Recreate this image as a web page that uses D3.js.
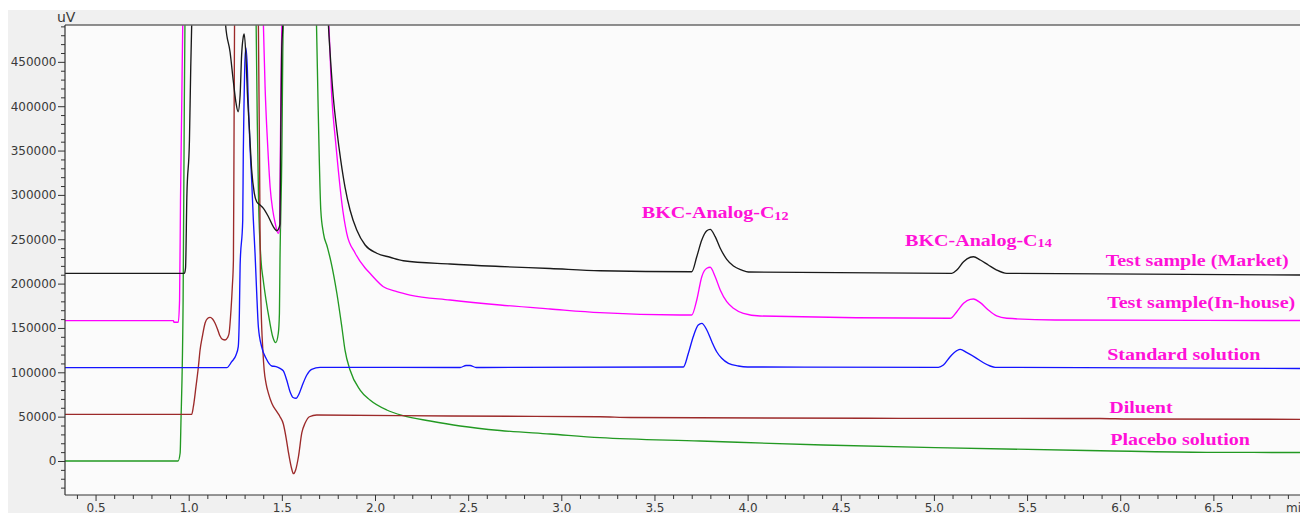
<!DOCTYPE html>
<html>
<head>
<meta charset="utf-8">
<script src="https://cdn.jsdelivr.net/npm/d3@7"></script>
<style>
  html, body { margin: 0; padding: 0; background: #ffffff; }
  svg { display: block; }
</style>
</head>
<body>
<div id="chart"></div>
<script>
// Chromatograms: [retention time (min), detector response (uV)].
// Off-scale main peaks are given a nominal height above the plotted range.
const placebo = [[0.336,0],[0.943,0],[0.954,9000],[0.959,49600],[0.964,91300],[0.970,181500],[0.975,350600],[0.980,497000],[1.05,650000],[1.30,650000],[1.355,560000],[1.362,491500],[1.368,384400],[1.375,294300],[1.388,226600],[1.400,204100],[1.415,181500],[1.433,159000],[1.451,140100],[1.467,133400],[1.481,144000],[1.487,166900],[1.490,226600],[1.500,347200],[1.505,460000],[1.509,519700],[1.55,650000],[1.65,650000],[1.681,530000],[1.686,491500],[1.694,407000],[1.701,339300],[1.709,283000],[1.723,257000],[1.744,241300],[1.764,224300],[1.795,189400],[1.822,151100],[1.839,125100],[1.866,102600],[1.920,80000],[1.973,68800],[2.063,57500],[2.151,51100],[2.296,45100],[2.457,39500],[2.671,34400],[2.940,30400],[3.208,26300],[3.745,22500],[4.405,18000],[5.007,15000],[5.893,11600],[6.466,9800],[6.965,9600]];

const diluent = [[0.336,52600],[1.016,52600],[1.025,61200],[1.039,83800],[1.052,106300],[1.061,125100],[1.073,140100],[1.088,155600],[1.101,160700],[1.115,162000],[1.128,160100],[1.141,155600],[1.158,146600],[1.168,140900],[1.182,137000],[1.195,136400],[1.209,139200],[1.217,144300],[1.227,170200],[1.234,196200],[1.240,226600],[1.243,350600],[1.246,491500],[1.26,650000],[1.36,650000],[1.374,491500],[1.380,350600],[1.384,226600],[1.389,170200],[1.398,125100],[1.405,102600],[1.415,87600],[1.428,76300],[1.446,65100],[1.473,55600],[1.490,49900],[1.508,41700],[1.523,25900],[1.535,10100],[1.553,-9000],[1.562,-14300],[1.574,-10100],[1.589,4800],[1.607,31600],[1.625,42800],[1.648,49900],[1.687,51900],[2.403,50700],[3.208,49900],[3.369,49000],[4.818,48100],[5.891,47900],[6.052,47300],[6.965,47000]];

const standard = [[0.336,105200],[1.204,105200],[1.231,112000],[1.254,119500],[1.266,128900],[1.272,166900],[1.276,221000],[1.290,271700],[1.293,347200],[1.297,403600],[1.302,452100],[1.307,465600],[1.315,440800],[1.320,403600],[1.329,354000],[1.338,316800],[1.347,271700],[1.356,234500],[1.365,189400],[1.374,151100],[1.392,128500],[1.415,115800],[1.446,107100],[1.469,106500],[1.490,104500],[1.508,101500],[1.526,91300],[1.544,78100],[1.560,71600],[1.576,70700],[1.592,75500],[1.607,83800],[1.634,97000],[1.660,103400],[1.705,105600],[2.457,105400],[2.489,107700],[2.510,107700],[2.543,105400],[3.655,106000],[3.682,121400],[3.708,140100],[3.735,153300],[3.754,155200],[3.781,147700],[3.808,134500],[3.834,123200],[3.861,115800],[3.897,110100],[3.950,107100],[4.000,106000],[5.024,105600],[5.051,108200],[5.087,117600],[5.123,124400],[5.141,125900],[5.177,122100],[5.221,116900],[5.266,110800],[5.302,107100],[5.329,105600],[6.965,104300]];

const inHouse = [[0.336,158200],[0.918,158200],[0.921,156400],[0.944,156400],[0.951,181500],[0.956,294300],[0.963,407000],[0.968,491500],[1.0,650000],[1.37,650000],[1.397,519700],[1.401,491500],[1.410,421600],[1.419,375400],[1.428,339300],[1.437,308900],[1.451,283000],[1.463,269400],[1.481,256700],[1.488,262700],[1.492,350600],[1.497,452100],[1.500,491500],[1.52,650000],[1.72,650000],[1.745,508500],[1.752,491500],[1.768,410400],[1.786,365300],[1.803,328100],[1.822,290900],[1.848,257000],[1.893,234500],[1.947,217600],[1.973,211600],[2.045,196500],[2.117,190900],[2.188,187100],[2.403,181500],[2.671,175900],[2.940,171400],[3.208,167200],[3.637,164600],[3.700,164600],[3.727,181500],[3.754,207800],[3.781,217300],[3.799,218400],[3.826,207800],[3.853,192800],[3.888,179600],[3.924,172200],[3.977,166500],[4.067,163500],[5.087,160900],[5.123,168300],[5.159,177800],[5.195,182300],[5.212,182600],[5.249,178500],[5.292,170200],[5.337,163500],[5.391,160900],[5.650,159000],[6.965,158400]];

const market = [[0.336,211600],[0.977,211600],[0.983,217600],[0.990,297600],[1.004,361900],[1.011,444200],[1.016,491500],[1.05,650000],[1.15,650000],[1.190,519700],[1.198,491500],[1.222,461100],[1.240,427300],[1.254,403600],[1.265,393800],[1.276,412600],[1.284,457700],[1.292,476900],[1.298,481400],[1.308,452100],[1.315,414900],[1.326,373200],[1.338,328100],[1.352,302100],[1.365,292300],[1.383,288600],[1.401,284900],[1.428,275400],[1.454,264200],[1.473,259600],[1.482,261600],[1.490,267200],[1.494,365300],[1.499,460000],[1.505,491500],[1.52,650000],[1.72,650000],[1.745,519700],[1.750,491500],[1.759,460000],[1.776,410400],[1.795,373200],[1.816,339300],[1.839,308900],[1.866,283000],[1.902,260400],[1.947,243500],[2.009,234200],[2.081,229700],[2.152,225800],[2.403,222100],[2.671,219300],[2.940,217000],[3.208,214500],[3.700,213400],[3.727,230300],[3.754,249200],[3.781,259600],[3.799,261200],[3.826,252900],[3.853,239800],[3.888,227400],[3.924,219800],[3.969,215300],[4.004,213100],[5.096,211600],[5.123,215300],[5.159,224700],[5.195,229700],[5.212,230300],[5.249,226600],[5.292,221000],[5.337,215300],[5.391,211600],[6.965,209700]];

const traceNames = ["Placebo solution", "Diluent", "Standard solution", "Test sample(In-house)", "Test sample (Market)"];
const peakNames = ["BKC-Analog-C", "BKC-Analog-C"];
const peakSubscripts = ["12", "14"];
const peakTimes = [3.80, 5.21];
const yTicks = [0, 50000, 100000, 150000, 200000, 250000, 300000, 350000, 400000, 450000];
const xTicks = [0.5, 1.0, 1.5, 2.0, 2.5, 3.0, 3.5, 4.0, 4.5, 5.0, 5.5, 6.0, 6.5];
const yUnit = "uV";
const xUnit = "min";

// ---- layout ----
const W = 1300, H = 513;
const plot = { left: 65, top: 25, right: 1300, bottom: 495 };
const colors = ["#229922", "#9c2a2a", "#1414ff", "#ff00ff", "#1a1a1a"];
const labelColor = "#ff10d8";
const axisFont = "'DejaVu Sans', sans-serif";
const labelFont = "'Liberation Serif', 'Times New Roman', serif";
const stretch = 1.18;

const traces = [placebo, diluent, standard, inHouse, market];

const svg = d3.select("#chart").append("svg")
  .attr("width", W).attr("height", H);

svg.append("rect").attr("width", W).attr("height", H).attr("fill", "#ffffff");
svg.append("rect").attr("x", 8).attr("y", 10).attr("width", W - 8).attr("height", H - 10).attr("fill", "#f0f0f0");
svg.append("rect")
  .attr("x", plot.left).attr("y", plot.top)
  .attr("width", plot.right - plot.left).attr("height", plot.bottom - plot.top)
  .attr("fill", "#fbfbfb");

const x = d3.scaleLinear().domain([0.336, 6.965]).range([plot.left, plot.right]);
const y = d3.scaleLinear().domain([-38330, 491550]).range([plot.bottom, plot.top]);

svg.append("clipPath").attr("id", "plotClip")
  .append("rect")
  .attr("x", plot.left).attr("y", plot.top)
  .attr("width", plot.right - plot.left).attr("height", plot.bottom - plot.top);

// ---- traces ----
const line = d3.line()
  .x(d => x(d[0]))
  .y(d => y(d[1]))
  .curve(d3.curveMonotoneX);

const gLines = svg.append("g").attr("clip-path", "url(#plotClip)");
traces.forEach((s, i) => {
  gLines.append("path")
    .datum(s)
    .attr("fill", "none")
    .attr("stroke", colors[i])
    .attr("stroke-width", 1.35)
    .attr("stroke-linejoin", "round")
    .attr("d", line);
});

// ---- axes ----
const axisColor = "#333333";

// y minor ticks
const yMinor = d3.range(-30000, 491000, 10000).filter(v => v % 50000 !== 0);
svg.append("g")
  .attr("transform", `translate(${plot.left},0)`)
  .call(d3.axisLeft(y).tickValues(yMinor).tickSize(4).tickFormat(""))
  .call(g => g.select(".domain").remove())
  .call(g => g.selectAll("line").attr("stroke", axisColor));

// y major ticks
svg.append("g")
  .attr("transform", `translate(${plot.left},0)`)
  .call(d3.axisLeft(y).tickValues(yTicks).tickSize(7).tickPadding(1.5).tickFormat(d3.format("d")))
  .call(g => g.select(".domain").remove())
  .call(g => g.selectAll("line").attr("stroke", axisColor))
  .call(g => g.selectAll("text")
    .attr("fill", "#3a3a3a")
    .style("font-family", axisFont)
    .style("font-size", "12px"));

// x minor ticks
const xMinor = d3.range(4, 70).map(k => k / 10).filter(t => Math.round(t * 10) % 5 !== 0);
svg.append("g")
  .attr("transform", `translate(0,${plot.bottom})`)
  .call(d3.axisBottom(x).tickValues(xMinor).tickSize(4).tickFormat(""))
  .call(g => g.select(".domain").remove())
  .call(g => g.selectAll("line").attr("stroke", axisColor));

// x major ticks
svg.append("g")
  .attr("transform", `translate(0,${plot.bottom})`)
  .call(d3.axisBottom(x).tickValues(xTicks).tickSize(6).tickPadding(2).tickFormat(d3.format(".1f")))
  .call(g => g.select(".domain").remove())
  .call(g => g.selectAll("line").attr("stroke", axisColor))
  .call(g => g.selectAll("text")
    .attr("fill", "#3a3a3a")
    .style("font-family", axisFont)
    .style("font-size", "12px"));

// frame lines
svg.append("line")
  .attr("x1", plot.left).attr("x2", plot.right)
  .attr("y1", plot.top).attr("y2", plot.top)
  .attr("stroke", "#6a6a6a").attr("stroke-width", 1.5);
svg.append("line")
  .attr("x1", plot.left).attr("x2", plot.left)
  .attr("y1", plot.top).attr("y2", plot.bottom)
  .attr("stroke", axisColor).attr("stroke-width", 1.2);
svg.append("line")
  .attr("x1", plot.left).attr("x2", plot.right)
  .attr("y1", plot.bottom).attr("y2", plot.bottom)
  .attr("stroke", axisColor).attr("stroke-width", 1.2);

// unit labels
svg.append("text")
  .attr("x", plot.left - 8).attr("y", plot.top - 3.5)
  .attr("fill", "#3a3a3a")
  .style("font-family", axisFont).style("font-size", "14px")
  .text(yUnit);
svg.append("text")
  .attr("x", plot.right - 14).attr("y", plot.bottom + 16.5)
  .attr("fill", "#3a3a3a")
  .style("font-family", axisFont).style("font-size", "12px")
  .text(xUnit);

// ---- peak annotations (above the market-sample peak apex) ----
function apexNear(series, t0) {
  const near = series.filter(d => Math.abs(d[0] - t0) < 0.08);
  return near.reduce((a, b) => (b[1] > a[1] ? b : a));
}
peakTimes.forEach((t0, i) => {
  const apex = apexNear(market, t0);
  const txt = svg.append("text")
    .attr("transform", `translate(${x(apex[0]) + 5},${y(apex[1]) - 11}) scale(${stretch},1)`)
    .attr("text-anchor", "middle")
    .attr("fill", labelColor)
    .style("font-family", labelFont)
    .style("font-weight", "bold")
    .style("font-size", "17px");
  txt.append("tspan").text(peakNames[i]);
  txt.append("tspan").attr("dy", 1.5).style("font-size", "12px").text(peakSubscripts[i]);
});

// ---- trace names at the right end, just above each baseline ----
const nameLift = [7, 6.5, 8.5, 12.5, 9];
const nameShift = [3, 2, 0, 0, -1.5];
traces.forEach((s, i) => {
  const last = s[s.length - 1];
  svg.append("text")
    .attr("transform", `translate(${x(5.93) + nameShift[i]},${y(last[1]) - nameLift[i]}) scale(${stretch},1)`)
    .attr("fill", labelColor)
    .style("font-family", labelFont)
    .style("font-weight", "bold")
    .style("font-size", "17px")
    .text(traceNames[i]);
});
</script>
</body>
</html>
